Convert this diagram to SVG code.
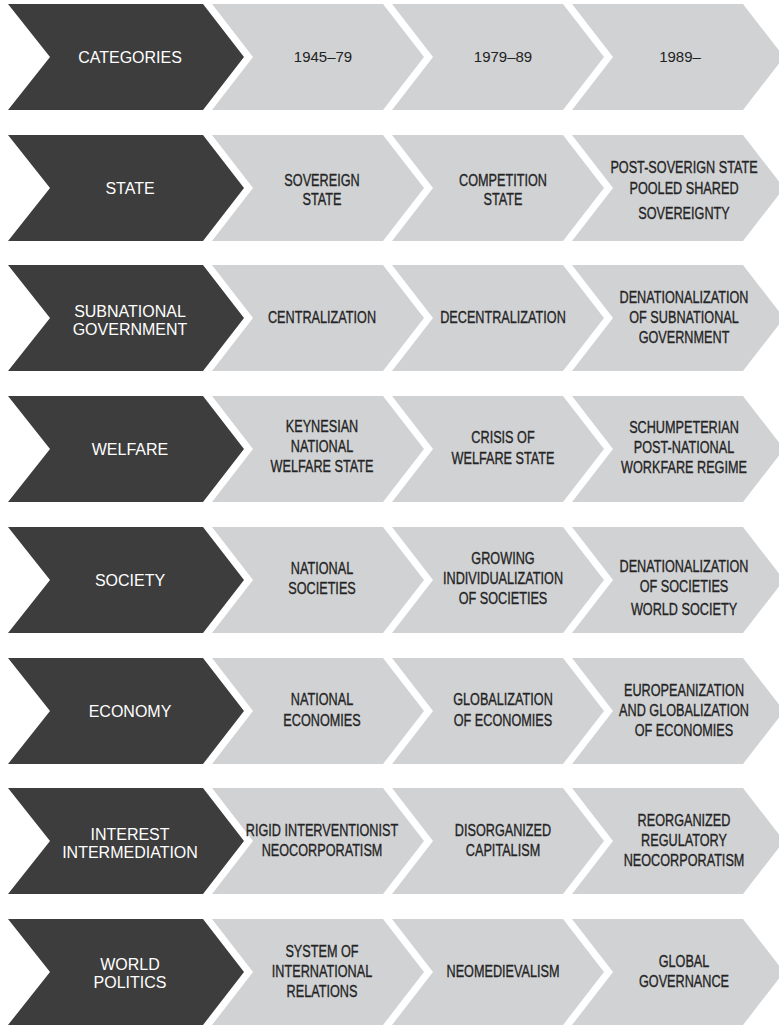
<svg xmlns="http://www.w3.org/2000/svg" xmlns:xlink="http://www.w3.org/1999/xlink" width="779" height="1025" viewBox="0 0 779 1025">
  <style>
    .dk { fill: #3d3d3d; }
    .lt { fill: #d1d2d4; }
    .hd { font-family: "Liberation Sans", Arial, sans-serif; font-size: 16px; fill: #ffffff; text-anchor: middle; }
    .yr { font-family: "Liberation Sans", Arial, sans-serif; font-size: 15px; fill: #222222; text-anchor: middle; }
    .c  { font-family: "Liberation Sans", Arial, sans-serif; font-size: 17px; fill: #242424; stroke: #242424; stroke-width: 0.35px; text-anchor: middle; }
  </style>
  <defs>
    <!-- chevron outlines, positioned with x/y on each use -->
    <path id="chev-dark" d="M0,0 H195 L236,53 L195,106 H0 L42,53 Z"/>
    <path id="chev-light" d="M0,0 H171 L212,53 L171,106 H0 L41,53 Z"/>
  </defs>

  <rect width="779" height="1025" fill="#ffffff"/>

  <!-- Row 0: header -->
  <g id="r0-label"><use xlink:href="#chev-dark" class="dk" x="8" y="4"/><text class="hd" x="130" y="63">CATEGORIES</text></g>
  <g id="r0-p1"><use xlink:href="#chev-light" class="lt" x="212" y="4"/><text class="yr" x="323" y="62">1945–79</text></g>
  <g id="r0-p2"><use xlink:href="#chev-light" class="lt" x="392" y="4"/><text class="yr" x="503" y="62">1979–89</text></g>
  <g id="r0-p3"><use xlink:href="#chev-light" class="lt" x="572" y="4"/><text class="yr" x="680" y="62">1989–</text></g>

  <!-- Row 1: state (mid 188) -->
  <g id="r1-label"><use xlink:href="#chev-dark" class="dk" x="8" y="135"/><text class="hd" x="130" y="194">STATE</text></g>
  <g id="r1-p1"><use xlink:href="#chev-light" class="lt" x="212" y="135"/>
    <g transform="translate(322 0) scale(0.745 1)"><text class="c" x="0" y="186">SOVEREIGN</text><text class="c" x="0" y="205">STATE</text></g></g>
  <g id="r1-p2"><use xlink:href="#chev-light" class="lt" x="392" y="135"/>
    <g transform="translate(503 0) scale(0.745 1)"><text class="c" x="0" y="186">COMPETITION</text><text class="c" x="0" y="205">STATE</text></g></g>
  <g id="r1-p3"><use xlink:href="#chev-light" class="lt" x="572" y="135"/>
    <g transform="translate(684 0) scale(0.745 1)"><text class="c" x="0" y="173">POST-SOVERIGN STATE</text><text class="c" x="0" y="194">POOLED SHARED</text><text class="c" x="0" y="219">SOVEREIGNTY</text></g></g>

  <!-- Row 2: subnational government (mid 318) -->
  <g id="r2-label"><use xlink:href="#chev-dark" class="dk" x="8" y="265"/><text class="hd" x="130" y="317">SUBNATIONAL</text><text class="hd" x="130" y="335">GOVERNMENT</text></g>
  <g id="r2-p1"><use xlink:href="#chev-light" class="lt" x="212" y="265"/>
    <g transform="translate(322 0) scale(0.745 1)"><text class="c" x="0" y="323">CENTRALIZATION</text></g></g>
  <g id="r2-p2"><use xlink:href="#chev-light" class="lt" x="392" y="265"/>
    <g transform="translate(503 0) scale(0.745 1)"><text class="c" x="0" y="323">DECENTRALIZATION</text></g></g>
  <g id="r2-p3"><use xlink:href="#chev-light" class="lt" x="572" y="265"/>
    <g transform="translate(684 0) scale(0.745 1)"><text class="c" x="0" y="303">DENATIONALIZATION</text><text class="c" x="0" y="323">OF SUBNATIONAL</text><text class="c" x="0" y="343">GOVERNMENT</text></g></g>

  <!-- Row 3: welfare (mid 449) -->
  <g id="r3-label"><use xlink:href="#chev-dark" class="dk" x="8" y="396"/><text class="hd" x="130" y="455">WELFARE</text></g>
  <g id="r3-p1"><use xlink:href="#chev-light" class="lt" x="212" y="396"/>
    <g transform="translate(322 0) scale(0.745 1)"><text class="c" x="0" y="432">KEYNESIAN</text><text class="c" x="0" y="452">NATIONAL</text><text class="c" x="0" y="472">WELFARE STATE</text></g></g>
  <g id="r3-p2"><use xlink:href="#chev-light" class="lt" x="392" y="396"/>
    <g transform="translate(503 0) scale(0.745 1)"><text class="c" x="0" y="443">CRISIS OF</text><text class="c" x="0" y="464">WELFARE STATE</text></g></g>
  <g id="r3-p3"><use xlink:href="#chev-light" class="lt" x="572" y="396"/>
    <g transform="translate(684 0) scale(0.745 1)"><text class="c" x="0" y="433">SCHUMPETERIAN</text><text class="c" x="0" y="453">POST-NATIONAL</text><text class="c" x="0" y="473">WORKFARE REGIME</text></g></g>

  <!-- Row 4: society (mid 580) -->
  <g id="r4-label"><use xlink:href="#chev-dark" class="dk" x="8" y="527"/><text class="hd" x="130" y="586">SOCIETY</text></g>
  <g id="r4-p1"><use xlink:href="#chev-light" class="lt" x="212" y="527"/>
    <g transform="translate(322 0) scale(0.745 1)"><text class="c" x="0" y="574">NATIONAL</text><text class="c" x="0" y="594">SOCIETIES</text></g></g>
  <g id="r4-p2"><use xlink:href="#chev-light" class="lt" x="392" y="527"/>
    <g transform="translate(503 0) scale(0.745 1)"><text class="c" x="0" y="564">GROWING</text><text class="c" x="0" y="584">INDIVIDUALIZATION</text><text class="c" x="0" y="604">OF SOCIETIES</text></g></g>
  <g id="r4-p3"><use xlink:href="#chev-light" class="lt" x="572" y="527"/>
    <g transform="translate(684 0) scale(0.745 1)"><text class="c" x="0" y="572">DENATIONALIZATION</text><text class="c" x="0" y="592">OF SOCIETIES</text><text class="c" x="0" y="615">WORLD SOCIETY</text></g></g>

  <!-- Row 5: economy (mid 711) -->
  <g id="r5-label"><use xlink:href="#chev-dark" class="dk" x="8" y="658"/><text class="hd" x="130" y="717">ECONOMY</text></g>
  <g id="r5-p1"><use xlink:href="#chev-light" class="lt" x="212" y="658"/>
    <g transform="translate(322 0) scale(0.745 1)"><text class="c" x="0" y="705">NATIONAL</text><text class="c" x="0" y="726">ECONOMIES</text></g></g>
  <g id="r5-p2"><use xlink:href="#chev-light" class="lt" x="392" y="658"/>
    <g transform="translate(503 0) scale(0.745 1)"><text class="c" x="0" y="705">GLOBALIZATION</text><text class="c" x="0" y="726">OF ECONOMIES</text></g></g>
  <g id="r5-p3"><use xlink:href="#chev-light" class="lt" x="572" y="658"/>
    <g transform="translate(684 0) scale(0.745 1)"><text class="c" x="0" y="696">EUROPEANIZATION</text><text class="c" x="0" y="716">AND GLOBALIZATION</text><text class="c" x="0" y="736">OF ECONOMIES</text></g></g>

  <!-- Row 6: interest intermediation (mid 841) -->
  <g id="r6-label"><use xlink:href="#chev-dark" class="dk" x="8" y="788"/><text class="hd" x="130" y="840">INTEREST</text><text class="hd" x="130" y="858">INTERMEDIATION</text></g>
  <g id="r6-p1"><use xlink:href="#chev-light" class="lt" x="212" y="788"/>
    <g transform="translate(322 0) scale(0.745 1)"><text class="c" x="0" y="836">RIGID INTERVENTIONIST</text><text class="c" x="0" y="856">NEOCORPORATISM</text></g></g>
  <g id="r6-p2"><use xlink:href="#chev-light" class="lt" x="392" y="788"/>
    <g transform="translate(503 0) scale(0.745 1)"><text class="c" x="0" y="836">DISORGANIZED</text><text class="c" x="0" y="856">CAPITALISM</text></g></g>
  <g id="r6-p3"><use xlink:href="#chev-light" class="lt" x="572" y="788"/>
    <g transform="translate(684 0) scale(0.745 1)"><text class="c" x="0" y="826">REORGANIZED</text><text class="c" x="0" y="846">REGULATORY</text><text class="c" x="0" y="866">NEOCORPORATISM</text></g></g>

  <!-- Row 7: world politics (mid 972) -->
  <g id="r7-label"><use xlink:href="#chev-dark" class="dk" x="8" y="919"/><text class="hd" x="130" y="970">WORLD</text><text class="hd" x="130" y="988">POLITICS</text></g>
  <g id="r7-p1"><use xlink:href="#chev-light" class="lt" x="212" y="919"/>
    <g transform="translate(322 0) scale(0.745 1)"><text class="c" x="0" y="957">SYSTEM OF</text><text class="c" x="0" y="977">INTERNATIONAL</text><text class="c" x="0" y="997">RELATIONS</text></g></g>
  <g id="r7-p2"><use xlink:href="#chev-light" class="lt" x="392" y="919"/>
    <g transform="translate(503 0) scale(0.745 1)"><text class="c" x="0" y="977">NEOMEDIEVALISM</text></g></g>
  <g id="r7-p3"><use xlink:href="#chev-light" class="lt" x="572" y="919"/>
    <g transform="translate(684 0) scale(0.745 1)"><text class="c" x="0" y="967">GLOBAL</text><text class="c" x="0" y="987">GOVERNANCE</text></g></g>

  <!-- no connectors: the chevrons abut one another -->
  <g id="connectors"/>
</svg>
